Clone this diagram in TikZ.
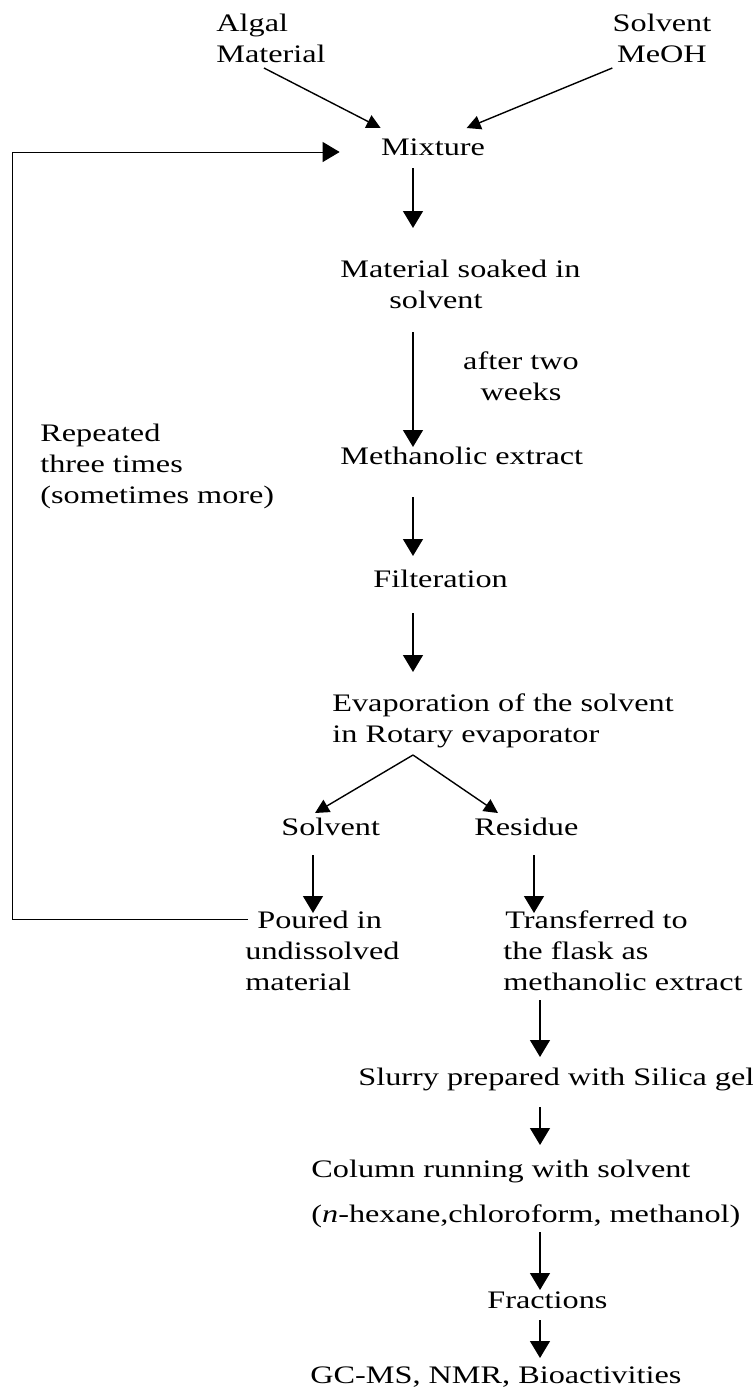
\documentclass[tikz,border=0pt]{standalone}
\usepackage{fontspec}
\setmainfont{Liberation Serif}[FakeStretch=1.28]
\usetikzlibrary{calc,arrows.meta}

\tikzset{
  txt/.style={inner sep=0pt, font=\fontsize{12.6}{15.5}\selectfont},
  arr/.style={-{Triangle[width=10pt,length=8.5pt]}, line width=0.7pt},
  sarr/.style={-{Triangle[width=7pt,length=7pt]}, line width=0.7pt},
}

\begin{document}
\begin{tikzpicture}[x=0.5pt, y=-0.5pt]
\useasboundingbox (0,0) rectangle (753,1389);
\draw(216,62) node[txt,anchor=base west,align=left] (alga) {Algal\\Material};
\draw(662,62) node[txt,anchor=base,align=center] (meoh) {Solvent\\MeOH};
\draw(433,155) node[txt,anchor=base] (mix) {Mixture};
\draw(340,308) node[txt,anchor=base west,align=left] (soak) {Material soaked in\\\hspace*{24.5pt}solvent};
\draw(521,400) node[txt,anchor=base,align=center] (weeks) {after two\\weeks};
\draw(340,464) node[txt,anchor=base west] (meth) {Methanolic extract};
\draw(40,503) node[txt,anchor=base west,align=left] (rep) {Repeated\\three times\\(sometimes more)};
\draw(373,587) node[txt,anchor=base west] (filt) {Filteration};
\draw(332,742) node[txt,anchor=base west,align=left] (evap) {Evaporation of the solvent\\in Rotary evaporator};
\draw(281,835) node[txt,anchor=base west] (solv) {Solvent};
\draw(474,835) node[txt,anchor=base west] (resid) {Residue};
\draw(245,990) node[txt,anchor=base west,align=left] (pour) {\hspace*{6pt}Poured in\\undissolved\\material};
\draw(503,990) node[txt,anchor=base west,align=left] (trans) {\hspace*{1pt}Transferred to\\the flask as\\methanolic extract};
\draw(358,1085) node[txt,anchor=base west] (slurry) {Slurry prepared with Silica gel};
\draw(311,1222) node[txt,anchor=base west,align=left] (column) {Column running with solvent\\[7pt](\textit{n}-hexane,chloroform, methanol)};
\draw(487,1308) node[txt,anchor=base west] (frac) {Fractions};
\draw(310,1383) node[txt,anchor=base west] (gcms) {GC-MS, NMR, Bioactivities};

\coordinate (up) at (413,0);
\coordinate (low) at (540,0);

% into the mixture
\draw[sarr] ($(alga.base west)+(48,6)$) -- ($(mix.base west)+(0,-27)$);
\draw[sarr] ($(meoh.base west)+(0,6)$) -- ($(mix.base west)+(86,-27)$);
\draw[arr, line width=0.5pt] ($(pour.base west)+(3,-71)$) -| ($(mix.base west)+(-368,-3)$) -- ($(mix.base west)+(-41,-3)$);

\foreach \a/\b/\s/\e in {mix/soak/13/-80, soak/meth/24/-17, meth/filt/33/-31, filt/evap/26/-70}
  \draw[arr] ($(\a.base -| up)+(0,\s)$) -- ($(\b.base -| up)+(0,\e)$);

% split
\coordinate (apex) at ($(evap.base -| up)+(0,13)$);
\draw[sarr] (apex) -- ($(solv.base west)+(34,-22)$);
\draw[sarr] (apex) -- ($(resid.base west)+(24,-22)$);
\draw[arr] ($(solv.base west)+(32,20)$) -- ($(pour.base west)+(68,-77)$);
\draw[arr] ($(resid.base west)+(60,20)$) -- ($(trans.base west)+(31,-77)$);

\foreach \a/\b/\s/\e in {trans/slurry/10/-28, slurry/column/22/-77, column/frac/10/-18, frac/gcms/12/-25}
  \draw[arr] ($(\a.base -| low)+(0,\s)$) -- ($(\b.base -| low)+(0,\e)$);
\end{tikzpicture}
\end{document}
